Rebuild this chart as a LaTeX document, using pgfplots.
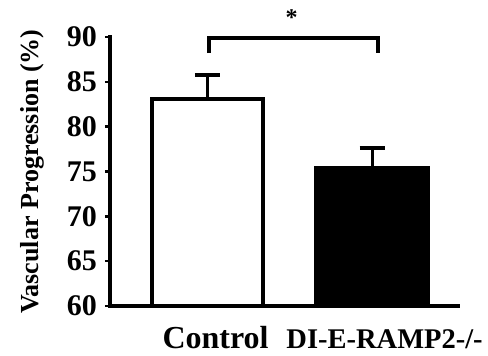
\documentclass[border=0pt]{standalone}
\usepackage{pgfplots}
\pgfplotsset{compat=1.18}
\usepackage{fontspec}
\setmainfont{Liberation Serif}
\usetikzlibrary{calc}
\begin{document}
\begin{tikzpicture}[x=1pt,y=1pt]
\begin{axis}[
  name=ax,
  at={(0,0)}, anchor=south west,
  scale only axis, width=348pt, height=269pt,
  xmin=-0.59, xmax=1.52, ymin=60, ymax=90,
  axis x line*=bottom, axis y line*=left,
  axis line style={line width=4pt, line cap=rect},
  ytick={60,65,70,75,80,85,90},
  xtick={0.05,1.075},
  xticklabels={Control,{\fontsize{28.5}{28.5}\selectfont DI-E-RAMP2-/-}},
  x tick style={draw=none},
  y tick style={line width=2.5pt, black},
  tick align=outside, major tick length=5pt,
  /pgf/number format/assume math mode=true,
  yticklabel style={font=\fontsize{30}{30}\selectfont\bfseries, anchor=east, inner sep=0pt, xshift=-8pt},
  xticklabel style={font=\fontsize{32}{32}\selectfont\bfseries, anchor=base, inner sep=0pt, yshift=-38pt},
  ylabel={Vascular Progression (\%)},
  ylabel style={font=\fontsize{26}{26}\selectfont\bfseries, at={(axis description cs:-0.224,0.5)}, anchor=center, inner sep=0pt},
  clip=false,
  error bars/y dir=plus, error bars/y explicit,
  error bars/error bar style={line width=3pt, black},
  error bars/error mark options={rotate=90, mark size=12.5pt, line width=4pt, black},
]
\addplot[ybar, bar width=111pt, bar shift=0pt, fill=white, draw=black, line width=4pt] coordinates {(0,83.1) +- (0,2.65)};
\addplot[ybar, bar width=115pt, bar shift=0pt, fill=black, draw=black, line width=1pt] coordinates {(1,75.6) +- (0,2.0)};
\addplot[sharp plot, no markers, line width=4pt, black] coordinates {(0.01,88.2) (0.01,89.9) (1.033,89.9) (1.033,88.2)};
\node[font=\fontsize{24}{24}\selectfont\bfseries, anchor=base] at (axis cs:0.512,91.3) {*};
\end{axis}
\pgfresetboundingbox
\path[use as bounding box] ($(ax.south west)+(-110pt,-50pt)$) rectangle ($(ax.south west)+(378pt,306pt)$);
\end{tikzpicture}
\end{document}
